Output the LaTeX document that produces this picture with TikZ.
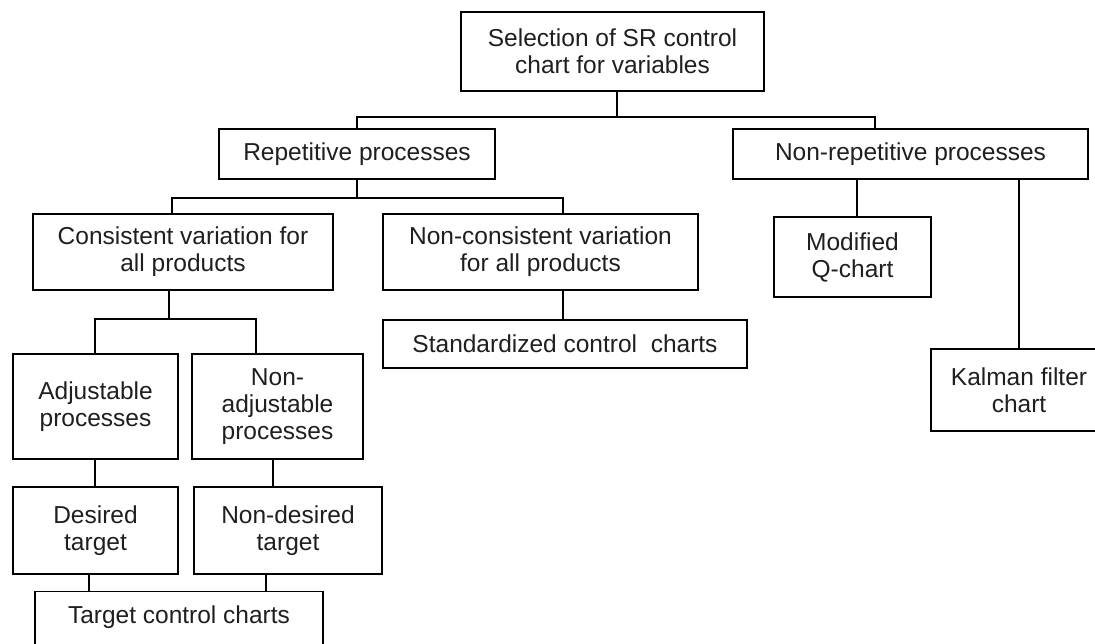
\documentclass[tikz,border=0pt]{standalone}
\usepackage{fontspec}
\setmainfont{Liberation Sans}
\begin{document}
\begin{tikzpicture}[x=1pt,y=-1pt,
  box/.style={draw=black, line width=1.2pt, inner sep=0pt, align=center, text=black!88,
              font=\fontsize{24.5}{27}\selectfont},
  conn/.style={draw=black, line width=1.2pt}]
\useasboundingbox (0,0) rectangle (1095,644);

% boxes
\node[box, minimum width=303pt, minimum height=79pt] (top) at (612.5,51.5) {Selection of SR control\\chart for variables};
\node[box, minimum width=276pt, minimum height=50pt] (rep) at (357,154) {Repetitive processes};
\node[box, minimum width=355pt, minimum height=50pt] (nonrep) at (910.5,154) {Non-repetitive processes};
\node[box, minimum width=300pt, minimum height=76pt] (cons) at (183,252) {Consistent variation for\\all products};
\node[box, minimum width=315pt, minimum height=76pt] (ncons) at (540.5,252) {Non-consistent variation\\for all products};
\node[box, minimum width=157pt, minimum height=80pt] (mod) at (852.5,257) {Modified\\Q-chart};
\node[box, minimum width=364pt, minimum height=48pt] (std) at (565,344) {Standardized control\ \ charts};
\node[box, minimum width=176pt, minimum height=82pt] (kal) at (1019,390) {Kalman filter\\chart};
\node[box, minimum width=165pt, minimum height=105pt] (adj) at (95.5,406.5) {Adjustable\\processes};
\node[box, minimum width=171pt, minimum height=105pt] (nadj) at (277.5,406.5) {Non-\\adjustable\\processes};
\node[box, minimum width=165pt, minimum height=87pt] (des) at (95.5,530.5) {Desired\\target};
\node[box, minimum width=188pt, minimum height=87pt] (ndes) at (288,530.5) {Non-desired\\target};
\node[box, anchor=north, minimum width=288pt, text height=32pt, text depth=29pt] (tgt) at (179,591) {Target control charts};

% branch coordinates
\coordinate (c1) at (617,117);
\coordinate (c2) at (875,117);
\coordinate (c3) at (172,198);
\coordinate (c4) at (563,198);
\coordinate (c5) at (95,319);
\coordinate (c6) at (256,319);
\coordinate (c7) at (169,319);
\coordinate (c8) at (273,0);
\coordinate (c9) at (89,0);
\coordinate (c10) at (266,0);
\coordinate (c11) at (857,0);
\coordinate (c12) at (95,0);

% connectors
\draw[conn] (top.south -| c1) -- (c1);
\draw[conn] (rep.north) |- (c2) -- (nonrep.north -| c2);
\draw[conn] (rep.south) -- (rep.south |- c3);
\draw[conn] (cons.north -| c3) -- (c3) -- (c4) -- (ncons.north -| c4);
\draw[conn] (ncons.south -| c4) -- (std.north -| c4);
\draw[conn] (cons.south -| c7) -- (c7);
\draw[conn] (adj.north -| c5) |- (c6) -- (nadj.north -| c6);
\draw[conn] (adj.south -| c12) -- (des.north -| c12);
\draw[conn] (nadj.south -| c8) -- (ndes.north -| c8);
\draw[conn] (des.south -| c9) -- (tgt.north -| c9);
\draw[conn] (ndes.south -| c10) -- (tgt.north -| c10);
\draw[conn] (nonrep.south -| c11) -- (mod.north -| c11);
\draw[conn] (nonrep.south -| kal.north) -- (kal.north);
\end{tikzpicture}
\end{document}
